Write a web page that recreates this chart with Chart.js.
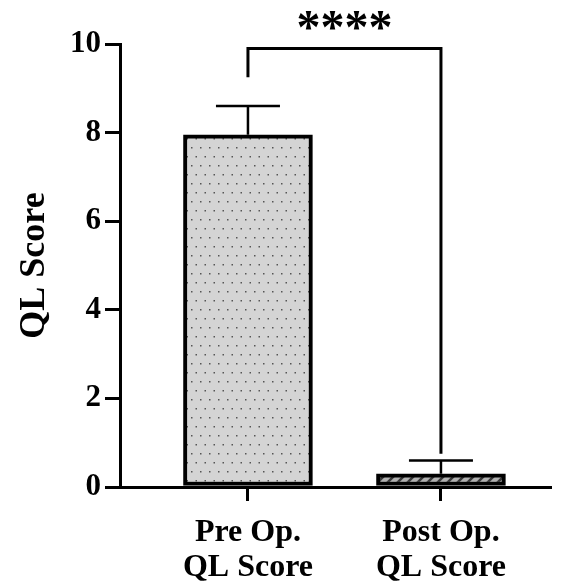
<!DOCTYPE html>
<html>
<head>
<meta charset="utf-8">
<script src="https://cdn.jsdelivr.net/npm/chart.js@4.4.1/dist/chart.umd.min.js"></script>
<style>
  html, body { margin: 0; padding: 0; background: #fff; }
  #wrap { width: 570px; height: 584px; }
</style>
</head>
<body>
<div id="wrap"><canvas id="myChart" width="570" height="584"></canvas></div>
<script>
// datos
const categories = [['Pre Op.', 'QL Score'], ['Post Op.', 'QL Score']];
const positions = [1, 2];
const means = [7.95, 0.3];
const sdUp = [0.65, 0.3];
const yTicks = [0, 2, 4, 6, 8, 10];
const sigLabel = '****';
const bracketTop = 9.9;
const bracketLegs = [9.25, 0.75];

// patrones de relleno
function dotPattern() {
  const c = document.createElement('canvas');
  c.width = 9; c.height = 18;
  const g = c.getContext('2d');
  g.fillStyle = '#d4d4d4';
  g.fillRect(0, 0, 9, 18);
  g.fillStyle = '#555';
  g.fillRect(2, 3, 1.5, 1.5);
  g.fillRect(6.5, 12, 1.5, 1.5);
  return g.createPattern(c, 'repeat');
}
function hatchPattern() {
  const c = document.createElement('canvas');
  c.width = 10; c.height = 10;
  const g = c.getContext('2d');
  g.fillStyle = '#b0b0b0';
  g.fillRect(0, 0, 10, 10);
  g.strokeStyle = '#3a3a3a';
  g.lineWidth = 2.5;
  g.beginPath();
  g.moveTo(0, 10); g.lineTo(10, 0);
  g.moveTo(-5, 5); g.lineTo(5, -5);
  g.moveTo(5, 15); g.lineTo(15, 5);
  g.stroke();
  return g.createPattern(c, 'repeat');
}

const fontName = '"Liberation Serif", "Times New Roman", serif';

// barras de error y corchete de significancia
const extras = {
  id: 'extras',
  afterDatasetsDraw(chart) {
    const ctx = chart.ctx;
    const x = chart.scales.x, y = chart.scales.y;
    ctx.save();
    ctx.strokeStyle = '#000';
    ctx.lineWidth = 2.5;
    positions.forEach((p, i) => {
      const px = x.getPixelForValue(p);
      const top = y.getPixelForValue(means[i] + sdUp[i]);
      const base = y.getPixelForValue(means[i]);
      ctx.beginPath();
      ctx.moveTo(px, base); ctx.lineTo(px, top);
      ctx.moveTo(px - 32, top); ctx.lineTo(px + 32, top);
      ctx.stroke();
    });
    // corchete
    const x1 = x.getPixelForValue(positions[0]);
    const x2 = x.getPixelForValue(positions[1]);
    const yt = y.getPixelForValue(bracketTop);
    ctx.lineWidth = 3;
    ctx.beginPath();
    ctx.moveTo(x1, y.getPixelForValue(bracketLegs[0]));
    ctx.lineTo(x1, yt);
    ctx.lineTo(x2, yt);
    ctx.lineTo(x2, y.getPixelForValue(bracketLegs[1]));
    ctx.stroke();
    ctx.fillStyle = '#000';
    ctx.font = 'bold 48px ' + fontName;
    ctx.textAlign = 'center';
    ctx.textBaseline = 'middle';
    ctx.fillText(sigLabel, (x1 + x2) / 2, yt - 18);
    ctx.restore();
  }
};

const ctx = document.getElementById('myChart');
new Chart(ctx, {
  type: 'bar',
  data: {
    datasets: [{
      data: positions.map((p, i) => ({ x: p, y: means[i] })),
      backgroundColor: [dotPattern(), hatchPattern()],
      borderColor: '#000',
      borderWidth: 4,
      borderSkipped: false,
      barThickness: 129
    }]
  },
  options: {
    responsive: false,
    animation: false,
    layout: { padding: { top: 44, right: 20, left: 0, bottom: 0 } },
    plugins: { legend: { display: false }, tooltip: { enabled: false } },
    scales: {
      x: {
        type: 'linear',
        offset: false,
        min: 0.337,
        max: 2.565,
        afterBuildTicks: s => { s.ticks = positions.map(v => ({ value: v })); },
        afterFit: s => { s.height = 97; },
        border: { display: true, color: '#000', width: 3 },
        grid: { offset: false, drawOnChartArea: false, color: '#000', lineWidth: 3, tickLength: 14 },
        ticks: {
          color: '#000',
          padding: 14,
          maxRotation: 0,
          autoSkip: false,
          font: { family: fontName, size: 32, weight: 'bold', lineHeight: 1.1 },
          callback: v => categories[positions.indexOf(v)] || ''
        }
      },
      y: {
        min: 0,
        max: 10,
        afterBuildTicks: s => { s.ticks = yTicks.map(v => ({ value: v })); },
        afterFit: s => { s.width = 120; },
        border: { display: true, color: '#000', width: 3 },
        grid: { drawOnChartArea: false, color: '#000', lineWidth: 3, tickLength: 15 },
        ticks: {
          color: '#000',
          padding: 4,
          font: { family: fontName, size: 31, weight: 'bold' }
        },
        title: {
          display: true,
          text: 'QL Score',
          color: '#000',
          padding: { top: 13, bottom: 0 },
          font: { family: fontName, size: 36, weight: 'bold' }
        }
      }
    }
  },
  plugins: [extras]
});
</script>
</body>
</html>
